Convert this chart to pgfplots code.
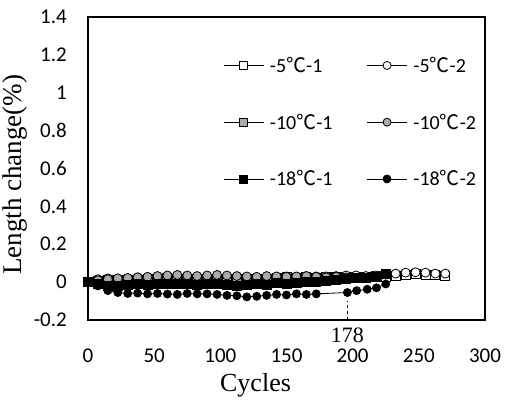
\documentclass[border=0pt]{standalone}
\usepackage{pgfplots}
\pgfplotsset{compat=1.18}
\usepackage{fontspec}
\setmainfont{Carlito}
\newfontfamily\tnr{Liberation Serif}
\newfontfamily\cjk{Noto Sans CJK SC}
\newcommand{\dc}{{\cjk ℃}}
\definecolor{mgray}{RGB}{170,170,170}

\begin{document}
\begin{tikzpicture}
\path (0,0) rectangle (507pt,401pt);
\begin{axis}[
    at={(88pt,81pt)}, anchor=south west,
    scale only axis,
    width=397pt, height=303pt,
    xmin=0, xmax=300,
    ymin=-0.2, ymax=1.4,
    xtick={0,50,100,150,200,250,300},
    xticklabels={0,50,100,150,200,250,300},
    ytick={-0.2,0,0.2,0.4,0.6,0.8,1,1.2,1.4},
    yticklabels={-0.2,0,0.2,0.4,0.6,0.8,1,1.2,1.4},
    major tick length=0pt,
    axis line style={line width=1.1pt},
    ticklabel style={font=\fontsize{21}{24}\selectfont},
    xticklabel style={inner sep=0pt, anchor=north, yshift=-29pt},
    yticklabel style={inner sep=0pt, anchor=east, xshift=-21pt},
    xlabel={\tnr Cycles},
    ylabel={\tnr Length change(\%)},
    xlabel style={font=\fontsize{26}{30}\selectfont, inner sep=0pt, at={(axis description cs:0.422,-0.215)}, anchor=center},
    ylabel style={font=\fontsize{27}{31}\selectfont, inner sep=0pt, at={(axis description cs:-0.183,0.479)}, anchor=center, rotate=0},
    clip=false,
    legend columns=2,
    legend cell align=left,
    legend style={draw=none, fill=none, at={(0.34,0.875)}, anchor=north west,
        font=\fontsize{20}{23}\selectfont, row sep=36pt, inner sep=0pt,
        /tikz/every even column/.append style={column sep=32pt},
        /tikz/every odd column/.append style={column sep=4pt}},
    legend image code/.code={\draw[mark repeat=2, mark phase=2, #1, mark size=4pt]
        plot coordinates {(0pt,0pt) (20pt,0pt) (40pt,0pt)};},
    every axis plot/.append style={black, line width=0.8pt, mark size=4.5pt,
        mark options={solid, draw=black, line width=0.8pt}},
]
% -5 C - 1
\addplot[mark=square*, mark options={fill=white}] coordinates {
(0,0) (7.5,0.005) (15,0.01) (22.5,0.01) (30,0.012) (37.5,0.01) (45,0.015)
(52.5,0.015) (60,0.02) (67.5,0.015) (75,0.018) (82.5,0.015) (90,0.012)
(97.5,0.015) (105,0.018) (112.5,0.012) (120,0.015) (127.5,0.018) (135,0.015)
(142.5,0.02) (150,0.025) (157.5,0.022) (165,0.025) (172.5,0.022) (180,0.028)
(187.5,0.025) (195,0.03) (202.5,0.03) (210,0.028) (217.5,0.032) (225,0.03)
(232.5,0.035) (240,0.04) (247.5,0.045) (255,0.04) (262.5,0.038) (270,0.035)
};
\addlegendentry{-5\dc-1}
% -5 C - 2
\addplot[mark=*, mark options={fill=white}] coordinates {
(0,0) (7.5,0.015) (15,0.02) (22.5,0.018) (30,0.02) (37.5,0.025) (45,0.022)
(52.5,0.03) (60,0.03) (67.5,0.028) (75,0.03) (82.5,0.025) (90,0.022)
(97.5,0.025) (105,0.02) (112.5,0.022) (120,0.02) (127.5,0.025) (135,0.022)
(142.5,0.028) (150,0.03) (157.5,0.028) (165,0.032) (172.5,0.03) (180,0.03)
(187.5,0.032) (195,0.035) (202.5,0.035) (210,0.032) (217.5,0.035) (225,0.04)
(232.5,0.045) (240,0.05) (247.5,0.052) (255,0.05) (262.5,0.045) (270,0.045)
};
\addlegendentry{-5\dc-2}
% -10 C - 1
\addplot[mark=square*, mark options={fill=mgray}] coordinates {
(0,0) (7.5,0.005) (15,0.008) (22.5,0.01) (30,0.008) (37.5,0.012) (45,0.01)
(52.5,0.015) (60,0.012) (67.5,0.015) (75,0.01) (82.5,0.012) (90,0.015)
(97.5,0.01) (105,0.012) (112.5,0.015) (120,0.012) (127.5,0.01) (135,0.015)
(142.5,0.012) (150,0.015) (157.5,0.018) (165,0.015) (172.5,0.02) (180,0.018)
(187.5,0.02) (195,0.022)
};
\addlegendentry{-10\dc-1}
% -10 C - 2
\addplot[mark=*, mark options={fill=mgray}] coordinates {
(0,0) (7.5,0.01) (15,0.015) (22.5,0.02) (30,0.022) (37.5,0.025) (45,0.028)
(52.5,0.032) (60,0.035) (67.5,0.038) (75,0.035) (82.5,0.032) (90,0.035)
(97.5,0.038) (105,0.035) (112.5,0.032) (120,0.03) (127.5,0.028) (135,0.032)
(142.5,0.03) (150,0.028) (157.5,0.03) (165,0.032) (172.5,0.028) (180,0.025)
(187.5,0.028) (195,0.025)
};
\addlegendentry{-10\dc-2}
% -18 C - 1
\addplot[mark=square*, mark options={fill=black}] coordinates {
(0,0) (7.5,-0.01) (15,-0.02) (22.5,-0.02) (30,-0.015) (37.5,-0.01) (45,-0.015)
(52.5,-0.01) (60,-0.012) (67.5,-0.008) (75,-0.01) (82.5,-0.015) (90,-0.01)
(97.5,-0.012) (105,-0.015) (112.5,-0.02) (120,-0.015) (127.5,-0.01) (135,-0.015)
(142.5,-0.005) (150,-0.01) (157.5,-0.005) (165,0) (172.5,0) (180,0.005)
(187.5,0.01) (195,0.015) (202.5,0.02) (210,0.02) (217.5,0.03) (225,0.045)
};
\addlegendentry{-18\dc-1}
% -18 C - 2
\addplot[mark=*, mark options={fill=black}, mark size=4pt] coordinates {
(0,0) (7.5,-0.02) (15,-0.045) (22.5,-0.055) (30,-0.06) (37.5,-0.058) (45,-0.062)
(52.5,-0.06) (60,-0.063) (67.5,-0.065) (75,-0.06) (82.5,-0.062) (90,-0.062)
(97.5,-0.065) (105,-0.07) (112.5,-0.072) (120,-0.078) (127.5,-0.075) (135,-0.07)
(142.5,-0.065) (150,-0.068) (157.5,-0.062) (165,-0.065) (172.5,-0.062)
(196,-0.055) (203,-0.045) (211,-0.038) (218,-0.03) (225,-0.01)
};
\addlegendentry{-18\dc-2}
% marker line at 178 cycles
\addplot[forget plot, dashed, line width=0.8pt, mark=none] coordinates {(196,-0.2) (196,-0.1)};
\node[font=\tnr\fontsize{22}{26}\selectfont, anchor=center] at (axis cs:196,-0.279) {178};
\end{axis}
\end{tikzpicture}
\end{document}
